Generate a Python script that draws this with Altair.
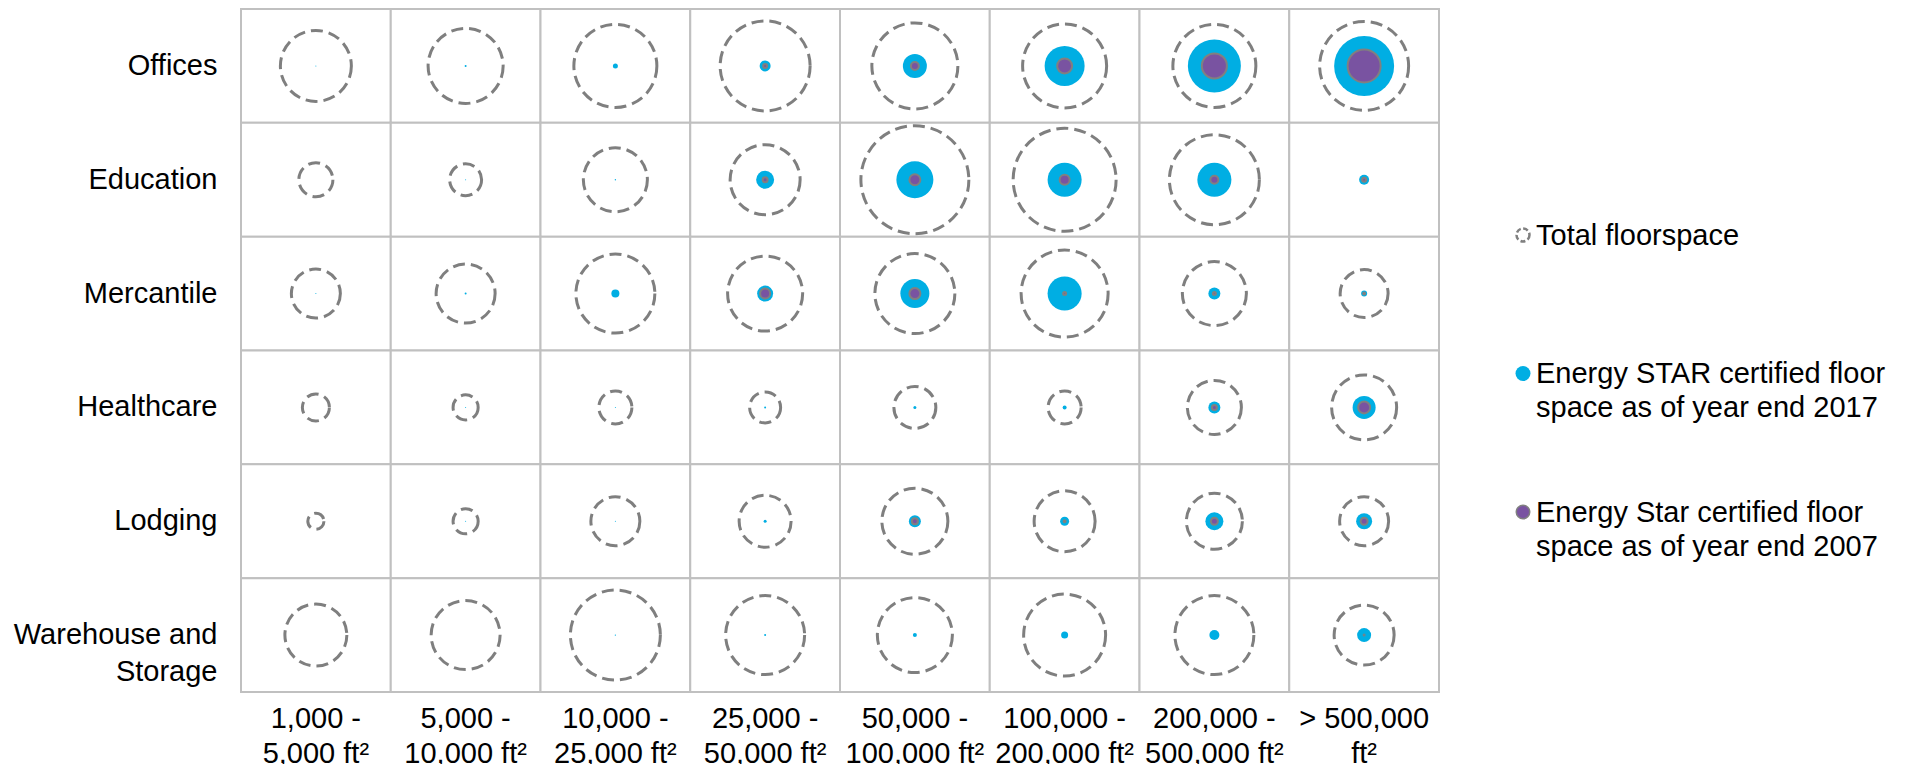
import altair as alt
import pandas as pd

FONT = "Liberation Sans"

size_classes = [
    "1,000 -\n5,000 ft²",
    "5,000 -\n10,000 ft²",
    "10,000 -\n25,000 ft²",
    "25,000 -\n50,000 ft²",
    "50,000 -\n100,000 ft²",
    "100,000 -\n200,000 ft²",
    "200,000 -\n500,000 ft²",
    "> 500,000\nft²",
]
building_types = ["Offices", "Education", "Mercantile", "Healthcare", "Lodging",
                  "Warehouse and\nStorage"]

# relative floor space (area units), one row per building type
total_floorspace = [
    [50.4, 56.3, 68.9, 81.0, 74.0, 70.6, 68.9, 79.2],
    [11.6, 10.2, 41.0, 49.0, 116.6, 106.1, 81.0, None],
    [24.0, 34.8, 62.4, 56.3, 64.0, 75.7, 41.0, 23.0],
    [7.3, 6.3, 10.9, 9.6, 17.6, 10.9, 29.2, 42.3],
    [2.6, 6.3, 24.0, 27.0, 43.6, 37.2, 31.4, 24.0],
    [38.4, 47.6, 81.0, 62.4, 56.3, 67.2, 62.4, 36.0],
]
energy_star_2017 = [
    [0.01, 0.04, 0.25, 1.21, 5.76, 16.0, 28.1, 36.0],
    [0.0, 0.01, 0.02, 3.24, 13.7, 11.6, 11.6, 1.0],
    [0.01, 0.04, 0.64, 2.56, 8.4, 11.6, 1.44, 0.36],
    [0.0, 0.01, 0.01, 0.04, 0.09, 0.16, 1.44, 5.29],
    [0.0, 0.01, 0.01, 0.09, 1.44, 0.81, 3.24, 2.56],
    [0.0, 0.0, 0.02, 0.04, 0.16, 0.49, 1.0, 1.96],
]
energy_star_2007 = [
    [0.0, 0.0, 0.0, 0.16, 0.64, 2.25, 6.25, 10.9],
    [0.0, 0.0, 0.0, 0.25, 1.21, 1.0, 0.64, 0.16],
    [0.0, 0.0, 0.0, 1.0, 1.21, 0.09, 0.09, 0.04],
    [0.0, 0.0, 0.0, 0.0, 0.0, 0.0, 0.25, 1.44],
    [0.0, 0.0, 0.0, 0.0, 0.36, 0.04, 0.49, 0.49],
    [0.0, 0.0, 0.0, 0.0, 0.0, 0.0, 0.0, 0.01],
]

legend_items = [
    "Total floorspace",
    "Energy STAR certified floor\nspace as of year end 2017",
    "Energy Star certified floor\nspace as of year end 2007",
]
legend_kinds = ["total", "es2017", "es2007"]

rows = []
for i, b in enumerate(building_types):
    for j, s in enumerate(size_classes):
        rows.append({
            "building": b,
            "size_class": s,
            "total": total_floorspace[i][j],
            "es2017": energy_star_2017[i][j],
            "es2007": energy_star_2007[i][j],
        })
df = pd.DataFrame(rows)

x_enc = alt.X(
    "size_class:N",
    sort=size_classes,
    scale=alt.Scale(domain=size_classes, paddingInner=0, paddingOuter=0),
    axis=alt.Axis(
        title=None, labelAngle=0, labelBaseline="top", labelAlign="center",
        labelPadding=12, labelLineHeight=35,
        labelExpr="split(datum.label, '\\n')",
        labelFont=FONT, labelFontSize=29, labelColor="black",
        ticks=False, domain=False, grid=False, labelLimit=400,
    ),
)
y_enc = alt.Y(
    "building:N",
    sort=building_types,
    scale=alt.Scale(domain=building_types, paddingInner=0, paddingOuter=0),
    axis=alt.Axis(
        title=None, labelAlign="right", labelBaseline="middle",
        labelPadding=24, labelLineHeight=37,
        labelExpr="split(datum.label, '\\n')",
        labelFont=FONT, labelFontSize=29, labelColor="black",
        ticks=False, domain=False, grid=False, labelLimit=400,
    ),
)

# symbol size = squared diameter; value 100 -> 100 px diameter
size_scale = alt.Scale(type="linear", domain=[0, 100], range=[0, 10000], zero=True)

base = alt.Chart(df).encode(x=x_enc, y=y_enc)

cells = base.mark_rect(fill="white", stroke="#C0C0C0", strokeWidth=2)

total = base.transform_filter("isValid(datum.total) && datum.total > 0").mark_point(
    shape="circle", filled=False, stroke="#7F7F7F", strokeWidth=3,
    strokeDash=[12, 6], opacity=1,
).encode(size=alt.Size("total:Q", scale=size_scale, legend=None))

blue = base.transform_filter("datum.es2017 > 0").mark_point(
    shape="circle", filled=True, fill="#00AEE3", strokeWidth=0, opacity=1,
).encode(size=alt.Size("es2017:Q", scale=size_scale, legend=None))

purple = base.transform_filter("datum.es2007 > 0").mark_point(
    shape="circle", filled=True, fill="#7953A1", stroke="#808080",
    strokeWidth=2, opacity=1,
).encode(size=alt.Size("es2007:Q", scale=size_scale, legend=None))

main = alt.layer(cells, total, blue, purple).properties(width=1198, height=683)

leg_df = pd.DataFrame({"item": legend_items, "kind": legend_kinds})
ly = alt.Y(
    "item:N",
    sort=legend_items,
    scale=alt.Scale(type="band", domain=legend_items, paddingInner=0.069,
                    paddingOuter=1, align=0.583),
    axis=None,
)
lbase = alt.Chart(leg_df).encode(y=ly)
l_total = lbase.transform_filter("datum.kind == 'total'").mark_point(
    shape="circle", filled=False, stroke="#808080", strokeWidth=2.5,
    strokeDash=[5, 2.5], size=169, opacity=1,
)
l_blue = lbase.transform_filter("datum.kind == 'es2017'").mark_point(
    shape="circle", filled=True, fill="#00AEE3", strokeWidth=0, size=225, opacity=1,
)
l_purple = lbase.transform_filter("datum.kind == 'es2007'").mark_point(
    shape="circle", filled=True, fill="#7953A1", stroke="#808080",
    strokeWidth=1.5, size=182, opacity=1,
)
l_text = lbase.mark_text(
    align="left", baseline="top", dx=13, dy=-13, font=FONT, fontSize=29,
    lineBreak="\n", lineHeight=34, color="black",
).encode(text="item:N")

legend = alt.layer(l_total, l_blue, l_purple, l_text).properties(width=20, height=683)

chart = alt.hconcat(main, legend, spacing=71).properties(
    padding={"left": 5, "top": 0, "right": 0, "bottom": 0}
).configure_view(stroke=None)

chart.save("out.html", embed_options={"renderer": "svg", "actions": False})
